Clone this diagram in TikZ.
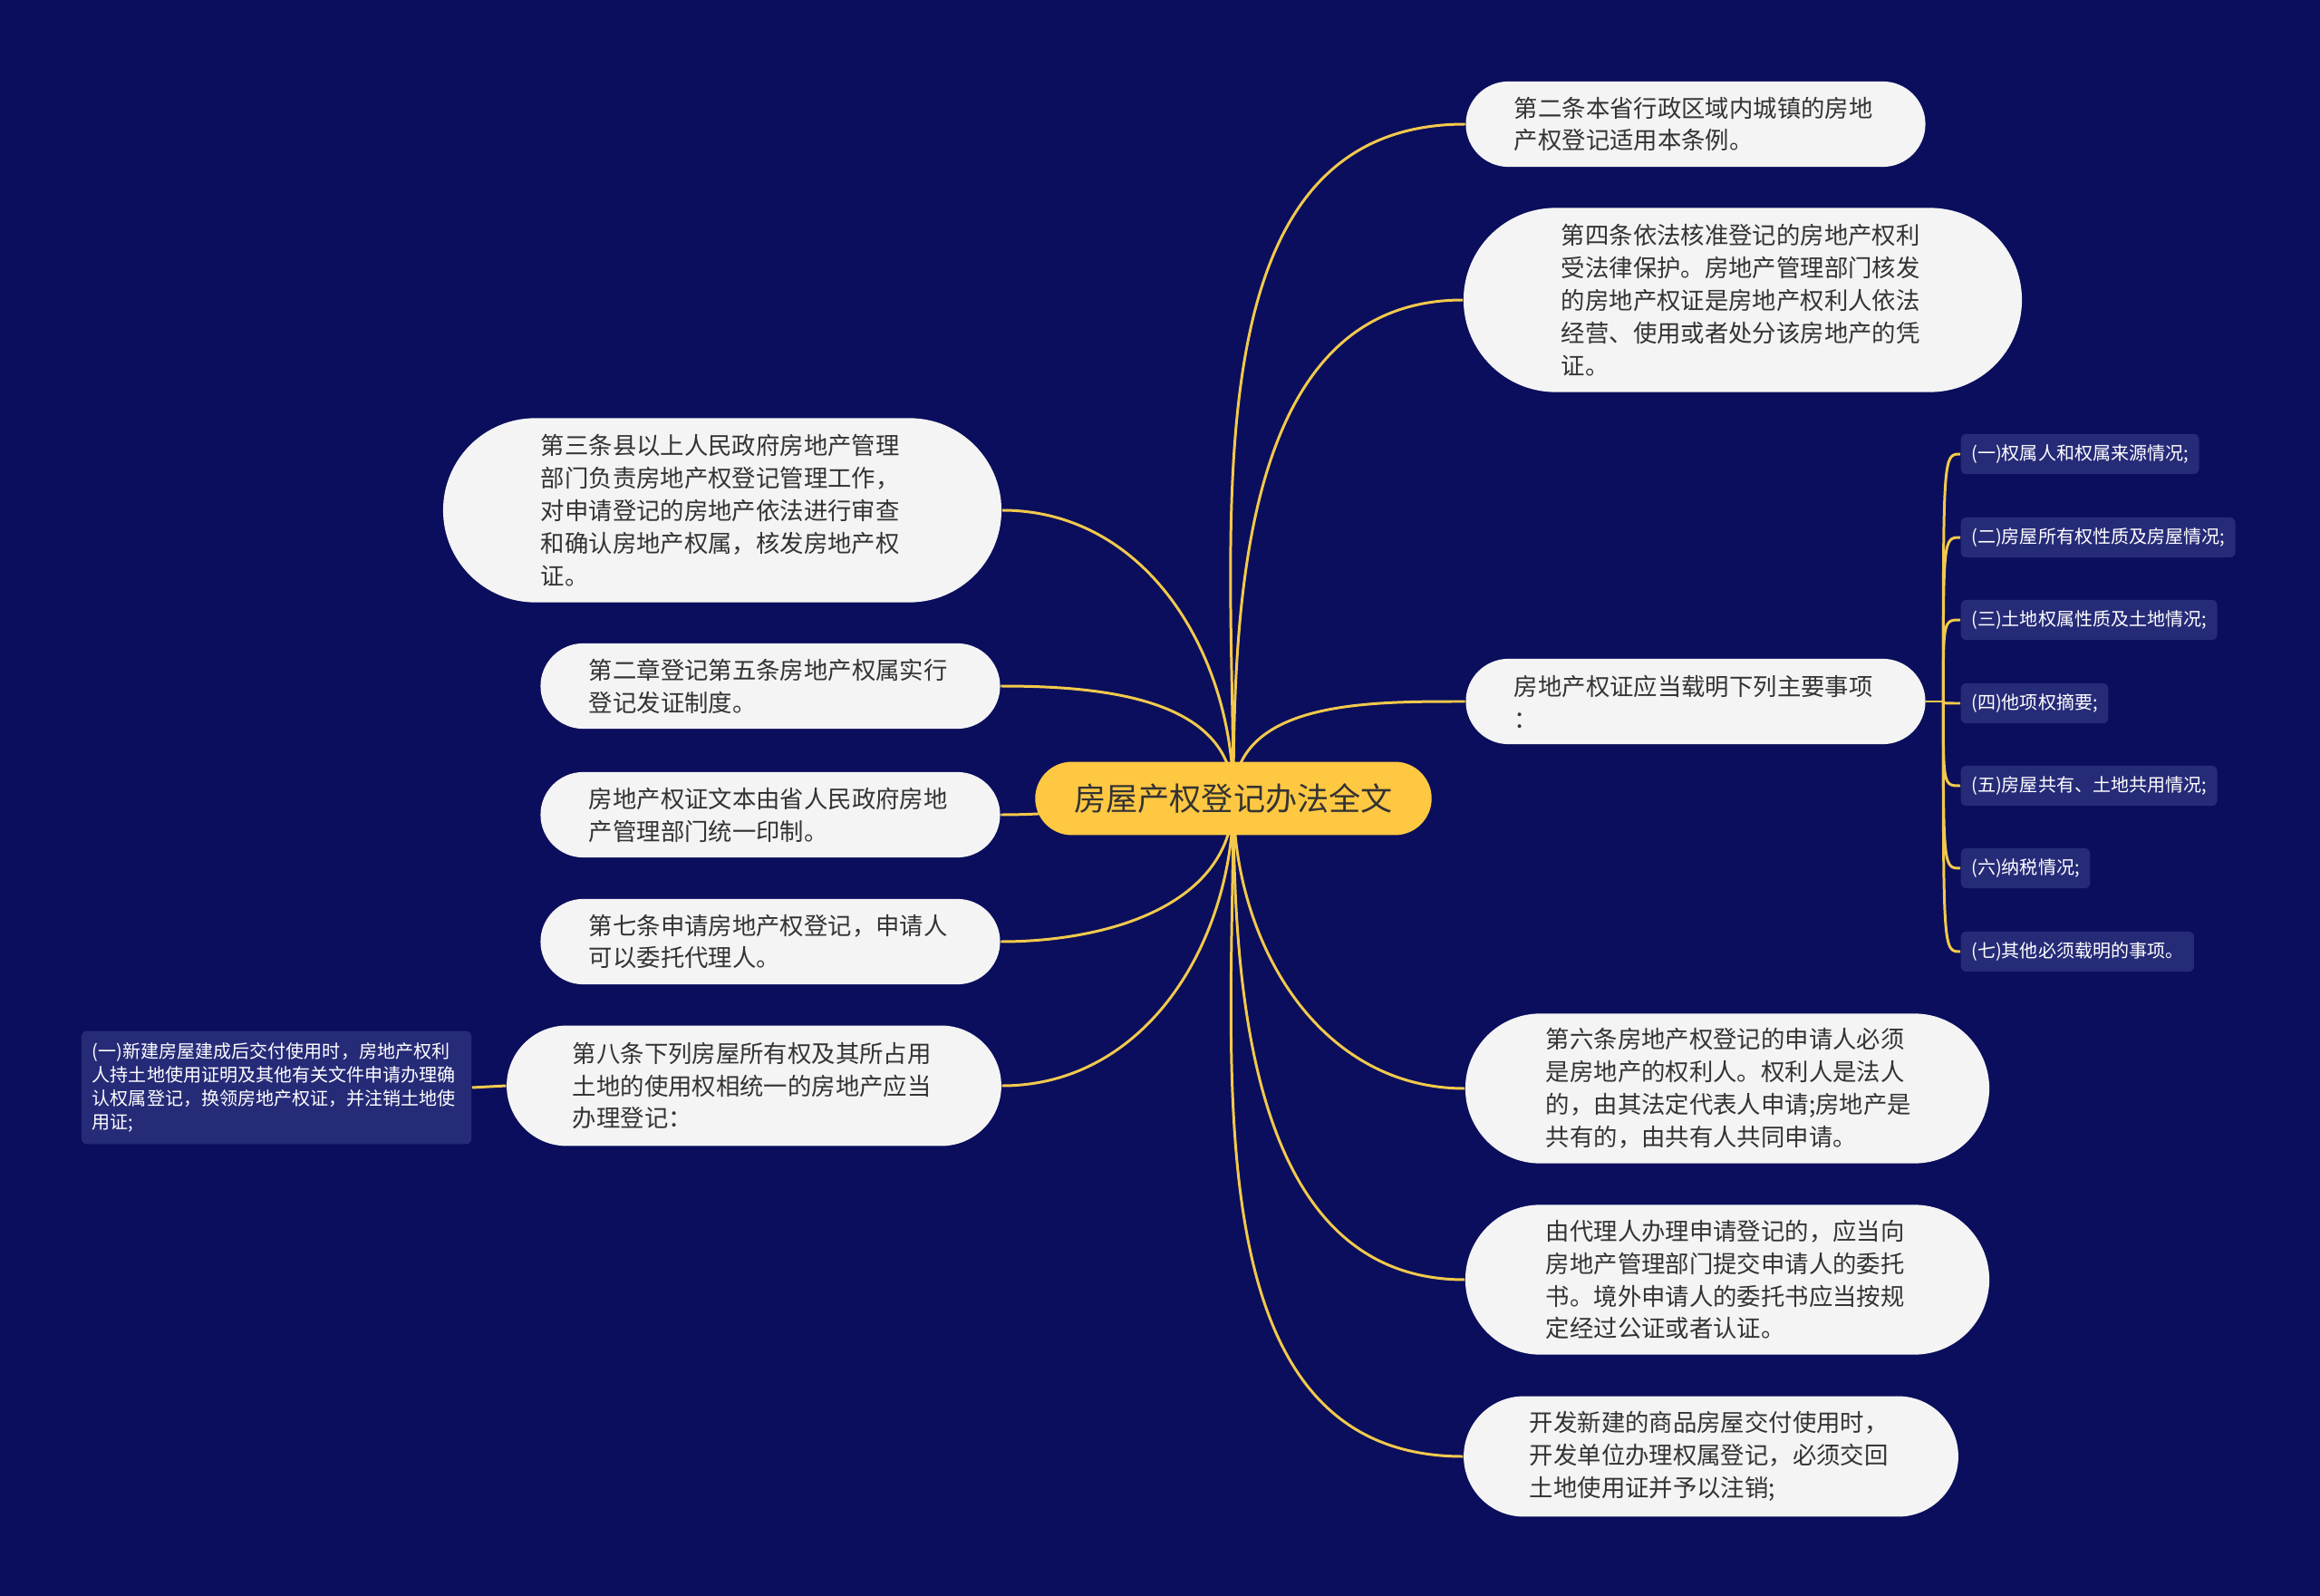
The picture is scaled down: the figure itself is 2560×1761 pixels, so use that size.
\documentclass[tikz,border=0pt]{standalone}
\usepackage{fontspec}
\setmainfont{Noto Sans CJK SC}
\definecolor{bgnavy}{HTML}{0A0E5C}
\definecolor{cardgray}{HTML}{F4F4F4}
\definecolor{ink}{HTML}{333333}
\definecolor{gold}{HTML}{FFC843}
\definecolor{wire}{HTML}{F2C94C}
\definecolor{tagblue}{HTML}{262B78}
\pgfdeclarelayer{back}
\pgfsetlayers{back,main}

\begin{document}
\begin{tikzpicture}[x=0.01cm,y=-0.01cm,
  wire/.style={draw=wire,line width=0.85pt},
  card/.style={rectangle,rounded corners=#1,minimum height=2*#1,inner xsep=#1+1.8pt,
    inner ysep=0pt,fill=cardgray,text=ink,text width=4cm,align=left,
    font=\fontsize{7.5}{10.2}\selectfont},
  tag/.style={fill=tagblue,text=white,rounded corners=1.7pt,anchor=west,
    inner xsep=3.3pt,minimum height=0.44cm,font=\fontsize{5.7}{7.4}\selectfont}]
  \useasboundingbox (0,0) rectangle (2560,1761);
  % centre
  \node[rectangle,rounded corners=11.5pt,minimum height=23pt,inner xsep=12.2pt,
    fill=gold,text=ink,font=\fontsize{10}{12}\selectfont] (root) at (1361,881) {房屋产权登记办法全文};
  % right
  \node[card=13.4pt] (r2) at (1871,137) {第二条本省行政区域内城镇的房地\\产权登记适用本条例。};
  \node[card=28.9pt] (r4) at (1923,331) {第四条依法核准登记的房地产权利\\受法律保护。房地产管理部门核发\\的房地产权证是房地产权利人依法\\经营、使用或者处分该房地产的凭\\证。};
  \node[card=13.4pt] (rz) at (1871,774) {房地产权证应当载明下列主要事项\\：};
  \node[card=23.5pt] (r6) at (1906,1201) {第六条房地产权登记的申请人必须\\是房地产的权利人。权利人是法人\\的，由其法定代表人申请;房地产是\\共有的，由共有人共同申请。};
  \node[card=23.5pt] (rd) at (1906,1412) {由代理人办理申请登记的，应当向\\房地产管理部门提交申请人的委托\\书。境外申请人的委托书应当按规\\定经过公证或者认证。};
  \node[card=18.9pt] (rk) at (1888,1607) {开发新建的商品房屋交付使用时，\\开发单位办理权属登记，必须交回\\土地使用证并予以注销;};
  % left
  \node[card=28.9pt] (l3) at (797,563) {第三条县以上人民政府房地产管理\\部门负责房地产权登记管理工作，\\对申请登记的房地产依法进行审查\\和确认房地产权属，核发房地产权\\证。};
  \node[card=13.4pt] (l5) at (850,757) {第二章登记第五条房地产权属实行\\登记发证制度。};
  \node[card=13.4pt] (lw) at (850,899) {房地产权证文本由省人民政府房地\\产管理部门统一印制。};
  \node[card=13.4pt] (l7) at (850,1039) {第七条申请房地产权登记，申请人\\可以委托代理人。};
  \node[card=18.9pt] (l8) at (832,1198) {第八条下列房屋所有权及其所占用\\土地的使用权相统一的房地产应当\\办理登记：};
  \node[fill=tagblue,text=white,rounded corners=1.7pt,text width=4.06cm,align=left,
    inner xsep=3.4pt,inner ysep=3.7pt,font=\fontsize{5.7}{7.4}\selectfont] (ll) at (305,1200)
    {(一)新建房屋建成后交付使用时，房地产权利\\人持土地使用证明及其他有关文件申请办理确\\认权属登记，换领房地产权证，并注销土地使\\用证;};
  % items
  \node[tag] (s1) at (2163,501) {(一)权属人和权属来源情况;};
  \node[tag] (s2) at (2163,593) {(二)房屋所有权性质及房屋情况;};
  \node[tag] (s3) at (2163,684) {(三)土地权属性质及土地情况;};
  \node[tag] (s4) at (2163,776) {(四)他项权摘要;};
  \node[tag] (s5) at (2163,867) {(五)房屋共有、土地共用情况;};
  \node[tag] (s6) at (2163,958) {(六)纳税情况;};
  \node[tag] (s7) at (2163,1050) {(七)其他必须载明的事项。};
  \begin{pgfonlayer}{back}
    \fill[bgnavy] (0,0) rectangle (2560,1761);
    \foreach \n in {r2,r4,rz} \draw[wire] (root.center) to[out=90,in=180] (\n.west);
    \foreach \n in {r6,rd,rk} \draw[wire] (root.center) to[out=-90,in=180] (\n.west);
    \foreach \n in {l3,l5} \draw[wire] (root.center) to[out=90,in=0] (\n.east);
    \foreach \n in {l7,l8} \draw[wire] (root.center) to[out=-90,in=0] (\n.east);
    \draw[wire] (root.center) to[out=180,in=0] (lw.east);
    \draw[wire] (l8.west) -- (ll.east);
    \draw[wire] (rz.east) -- ++(19,0) coordinate (fork);
    \foreach \i in {1,...,7} \draw[wire] (fork) .. controls (fork |- s\i.west) .. (s\i.west);
  \end{pgfonlayer}
\end{tikzpicture}
\end{document}
